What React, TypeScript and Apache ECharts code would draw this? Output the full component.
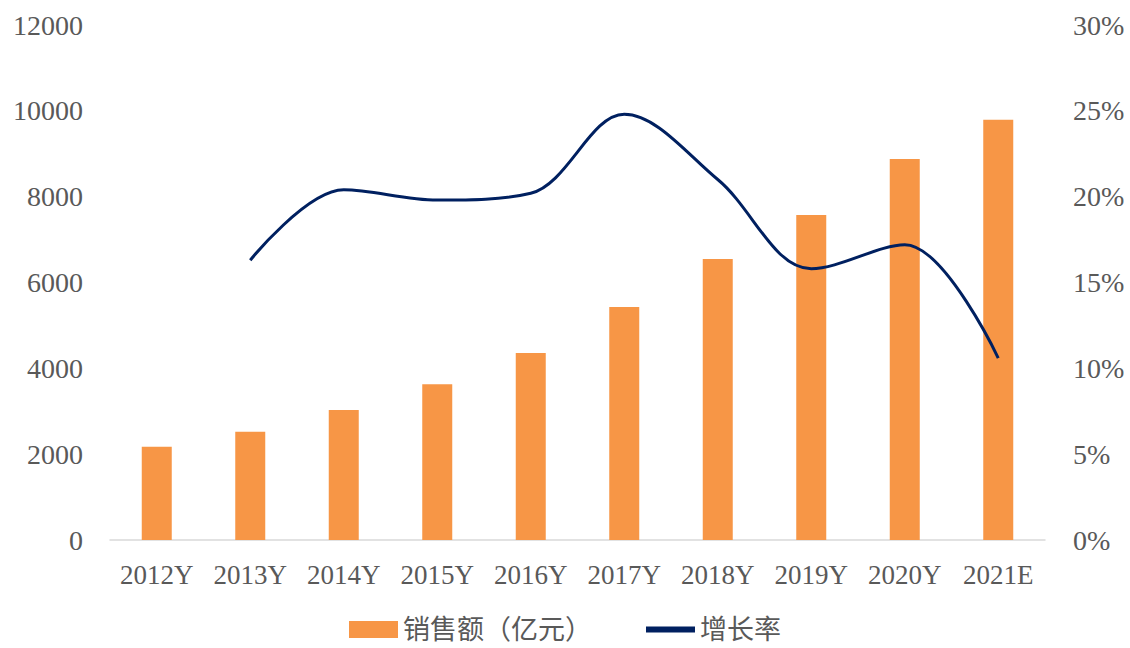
import React, { useEffect, useRef } from "react";
import * as echarts from "echarts";

const categories = ["2012Y", "2013Y", "2014Y", "2015Y", "2016Y", "2017Y", "2018Y", "2019Y", "2020Y", "2021E"];
const salesValues = [2170, 2520, 3030, 3630, 4360, 5430, 6550, 7570, 8880, 9790];
const growthValues: (number | null)[] = [null, 16.3, 20.4, 19.8, 20.2, 24.8, 21.0, 15.8, 17.2, 10.6];
const salesName = "销售额（亿元）";
const growthName = "增长率";

const FONT = "'Liberation Serif', 'Times New Roman', 'Noto Sans CJK SC', serif";
const TEXT = "#595959";

export default function App() {
  const ref = useRef<HTMLDivElement>(null);
  useEffect(() => {
    if (!ref.current) return;
    const chart = echarts.init(ref.current, undefined, { renderer: "svg" });
    chart.setOption({
      animation: false,
      backgroundColor: "#ffffff",
      textStyle: { fontFamily: FONT, color: TEXT },
      grid: { left: 110, right: 85, top: 25, bottom: 108, containLabel: false },
      legend: {
        top: 616,
        left: "center",
        itemGap: 54,
        itemWidth: 49,
        itemHeight: 17,
        padding: 0,
        textStyle: { fontSize: 27, lineHeight: 27, color: TEXT, fontFamily: FONT },
        data: [
          { name: salesName, icon: "rect" },
          { name: growthName, icon: "path://M0,0 L10,0 L10,1.2 L0,1.2 Z" },
        ],
      },
      xAxis: {
        type: "category",
        data: categories,
        axisLine: { lineStyle: { color: "#D9D9D9", width: 1.5 } },
        axisTick: { show: false },
        axisLabel: { color: TEXT, fontSize: 27, margin: 21, interval: 0, fontFamily: FONT },
      },
      yAxis: [
        {
          type: "value",
          min: 0,
          max: 12000,
          interval: 2000,
          splitLine: { show: false },
          axisLine: { show: false },
          axisTick: { show: false },
          axisLabel: {
            color: TEXT,
            fontSize: 28,
            margin: 27,
            fontFamily: FONT,
            formatter: (v: number) => String(v),
          },
        },
        {
          type: "value",
          min: 0,
          max: 30,
          interval: 5,
          position: "right",
          splitLine: { show: false },
          axisLine: { show: false },
          axisTick: { show: false },
          axisLabel: { color: TEXT, fontSize: 28, margin: 28, fontFamily: FONT, formatter: "{value}%" },
        },
      ],
      series: [
        {
          name: salesName,
          type: "bar",
          data: salesValues,
          barWidth: 30,
          itemStyle: { color: "#F79646" },
        },
        {
          name: growthName,
          type: "line",
          yAxisIndex: 1,
          data: growthValues,
          smooth: 0.35,
          showSymbol: false,
          symbol: "none",
          lineStyle: { color: "#002060", width: 3 },
          itemStyle: { color: "#002060" },
        },
      ],
    });
    return () => chart.dispose();
  }, []);
  return <div ref={ref} style={{ width: 1130, height: 648, position: "absolute", left: 0, top: 0 }} />;
}
